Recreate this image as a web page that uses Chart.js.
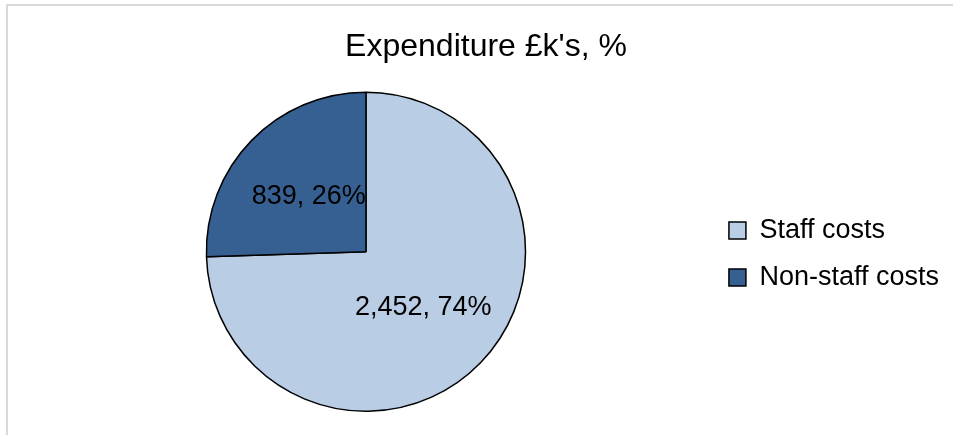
<!DOCTYPE html>
<html>
<head>
<meta charset="utf-8">
<script src="https://cdn.jsdelivr.net/npm/chart.js@4/dist/chart.umd.min.js"></script>
<style>
  html, body { margin: 0; padding: 0; background: #fff; overflow: hidden; }
  #frame { position: absolute; left: 6px; top: 4px; width: 980px; height: 460px; border: 2px solid #d9d9d9; }
  #myChart { position: absolute; left: 0; top: 0; }
</style>
</head>
<body>
<div id="frame"></div>
<canvas id="myChart" width="953" height="435"></canvas>
<script>
const labels = ['Staff costs', 'Non-staff costs'];
const values = [2452, 839];      // £k
const percents = [74, 26];       // as shown on the chart
const colors = ['#b9cde5', '#376092'];

const fontFamily = "'Liberation Sans', Arial, sans-serif";

// writes "value, pct%" in the middle of each slice
const sliceLabels = {
  id: 'sliceLabels',
  afterDatasetsDraw(chart) {
    const ctx = chart.ctx;
    const meta = chart.getDatasetMeta(0);
    ctx.save();
    ctx.font = '27px ' + fontFamily;
    ctx.fillStyle = '#000';
    ctx.textAlign = 'center';
    ctx.textBaseline = 'middle';
    meta.data.forEach((arc, i) => {
      const p = arc.tooltipPosition();
      ctx.fillText(values[i].toLocaleString('en-GB') + ', ' + percents[i] + '%', p.x, p.y);
    });
    ctx.restore();
  }
};

const ctx = document.getElementById('myChart').getContext('2d');
const myChart = new Chart(ctx, {
  type: 'pie',
  data: {
    labels: labels,
    datasets: [{
      data: values,
      backgroundColor: colors,
      borderColor: '#000',
      borderWidth: 1.5
    }]
  },
  options: {
    responsive: false,
    animation: false,
    layout: { padding: { left: 23, right: 4, top: 8, bottom: 23 } },
    plugins: {
      title: {
        display: true,
        text: "Expenditure £k's, %",
        color: '#000',
        font: { family: fontFamily, size: 32, weight: 'normal' },
        padding: { top: 20, bottom: 25 }
      },
      legend: {
        position: 'right',
        // empty legend title just pushes the items down to the pie's middle
        title: { display: true, text: ' ', font: { size: 10 }, padding: { top: 76, bottom: 0 } },
        labels: {
          color: '#000',
          font: { family: fontFamily, size: 27 },
          boxWidth: 17,
          boxHeight: 17,
          padding: 20
        }
      },
      tooltip: { enabled: false }
    }
  },
  plugins: [sliceLabels]
});
</script>
</body>
</html>
